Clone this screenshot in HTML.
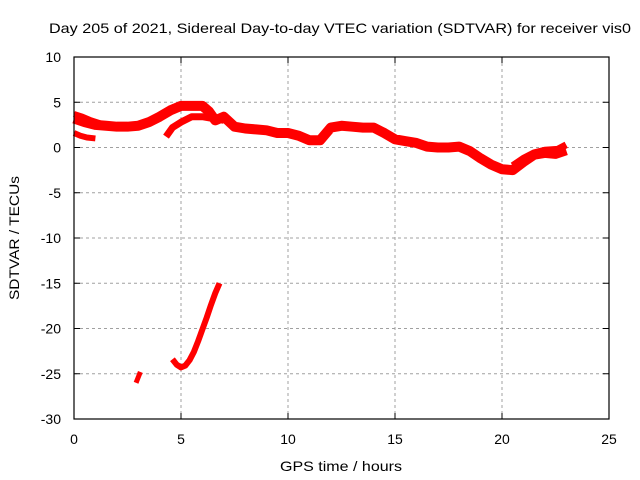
<!DOCTYPE html>
<html><head><meta charset="utf-8"><style>
html,body{margin:0;padding:0;background:#fff;}
svg{display:block;font-family:"Liberation Sans",sans-serif;}
</style></head><body>
<svg id="chart" width="640" height="480" viewBox="0 0 640 480">
<text x="340" y="33" text-anchor="middle" font-size="14" textLength="582" lengthAdjust="spacingAndGlyphs">Day 205 of 2021, Sidereal Day-to-day VTEC variation (SDTVAR) for receiver vis0</text>
<g id="grid"></g>
<g id="series"></g>
<rect x="74" y="57" width="535" height="362" fill="none" stroke="#000" stroke-width="1.2"/>
<g id="ticks"></g>
<text x="341" y="471" text-anchor="middle" font-size="14" textLength="122" lengthAdjust="spacingAndGlyphs">GPS time / hours</text>
<text transform="translate(19,238) rotate(-90)" text-anchor="middle" font-size="14" textLength="124" lengthAdjust="spacingAndGlyphs">SDTVAR / TECUs</text>
</svg>
<script>
const xTicks=[0,5,10,15,20,25];
const yTicks=[10,5,0,-5,-10,-15,-20,-25,-30];
const mainT=[0,0.5,1,1.5,2,2.5,3,3.5,4,4.5,5,5.5,6,6.3,6.6,7,7.5,8,8.5,9,9.5,10,10.5,11,11.5,12,12.5,13,13.5,14,14.5,15,15.5,16,16.5,17,17.5,18,18.5,19,19.5,20,20.5,21,21.5,22,22.5,23];
const mainV=[3.2,2.8,2.5,2.4,2.3,2.3,2.4,2.8,3.4,4.1,4.6,4.6,4.6,4.0,3.0,3.4,2.3,2.1,2.0,1.9,1.6,1.6,1.3,0.8,0.8,2.2,2.4,2.3,2.2,2.2,1.6,0.9,0.7,0.5,0.1,0.0,0.0,0.1,-0.4,-1.2,-1.9,-2.4,-2.5,-1.6,-0.8,-0.6,-0.7,-0.3];
const midT=[4.3,4.6,5,5.5,6,6.5,7];
const midV=[1.2,2.2,2.8,3.4,3.4,3.2,3.0];
const earlyT=[0,0.3,0.6,1];
const earlyV=[1.6,1.3,1.1,1.0];
const earlyTopT=[0,0.4,0.8,1.2];
const earlyTopV=[3.7,3.4,3.0,2.7];
const tailT=[20.5,21,21.5,22,22.6,23];
const tailV=[-2.0,-1.2,-0.6,-0.3,-0.2,0.3];
const dipT=[2.9,3.1];
const dipV=[-26,-24.8];
const arcT=[4.6,4.8,5.0,5.2,5.4,5.6,5.8,6.0,6.2,6.4,6.6,6.8];
const arcV=[-23.4,-24.0,-24.3,-24.1,-23.5,-22.6,-21.4,-20.1,-18.8,-17.4,-16.1,-15.0];
const NS='http://www.w3.org/2000/svg';
const X0=74,X1=609,Y0=57,Y1=419;
function xs(t){return X0+(t-0)/(25-0)*(X1-X0);}
function ys(v){return Y0+(10-v)/(10+30)*(Y1-Y0);}
const grid=document.getElementById('grid'),ticks=document.getElementById('ticks'),ser=document.getElementById('series');
function tick(x1,y1,x2,y2){const l=document.createElementNS(NS,'line');
  l.setAttribute('x1',x1);l.setAttribute('x2',x2);l.setAttribute('y1',y1);l.setAttribute('y2',y2);
  l.setAttribute('stroke','#000');
  
  
  ticks.appendChild(l);}
xTicks.forEach(t=>{
  const x=xs(t);
  if(t>0&&t<25){const l=document.createElementNS(NS,'line');
  l.setAttribute('x1',x);l.setAttribute('x2',x);l.setAttribute('y1',Y0);l.setAttribute('y2',Y1);
  l.setAttribute('stroke','#a0a0a0');l.setAttribute('stroke-dasharray','3,3');
  
  
  grid.appendChild(l);
  tick(x,Y1,x,Y1-6);tick(x,Y0,x,Y0+6);}
  const tx=document.createElementNS(NS,'text');
  tx.setAttribute('x',x);tx.setAttribute('y',Y1+25);tx.setAttribute('text-anchor','middle');tx.setAttribute('font-size','14');
  tx.textContent=t;
  
  
  ticks.appendChild(tx);
});
yTicks.forEach(v=>{
  const y=ys(v);
  if(v<10&&v>-30){const l=document.createElementNS(NS,'line');
  l.setAttribute('x1',X0);l.setAttribute('x2',X1);l.setAttribute('y1',y);l.setAttribute('y2',y);
  l.setAttribute('stroke','#a0a0a0');l.setAttribute('stroke-dasharray','3,3');
  
  
  grid.appendChild(l);
  tick(X0,y,X0+6,y);tick(X1,y,X1-6,y);}
  const tx=document.createElementNS(NS,'text');
  tx.setAttribute('x',X0-13);tx.setAttribute('y',y+5);tx.setAttribute('text-anchor','end');tx.setAttribute('font-size','14');
  tx.textContent=v;
  
  
  ticks.appendChild(tx);
});
function draw(T,V,w,name){
  const p=document.createElementNS(NS,'polyline');
  p.setAttribute('points',T.map((t,i)=>xs(t)+','+ys(V[i])).join(' '));
  p.setAttribute('fill','none');p.setAttribute('stroke','#ff0000');p.setAttribute('stroke-width',w);
  p.setAttribute('stroke-linejoin','round');
  
  
  ser.appendChild(p);
}
draw(mainT,mainV,10,'sdtvar-main-trace');
draw(midT,midV,7,'sdtvar-mid-trace');
draw(earlyT,earlyV,6,'sdtvar-early-trace');
draw(earlyTopT,earlyTopV,6,'sdtvar-early-top-trace');
draw(tailT,tailV,7,'sdtvar-tail-trace');
draw(dipT,dipV,5,'sdtvar-dip-trace');
draw(arcT,arcV,6,'sdtvar-arc-trace');
</script>
</body></html>
